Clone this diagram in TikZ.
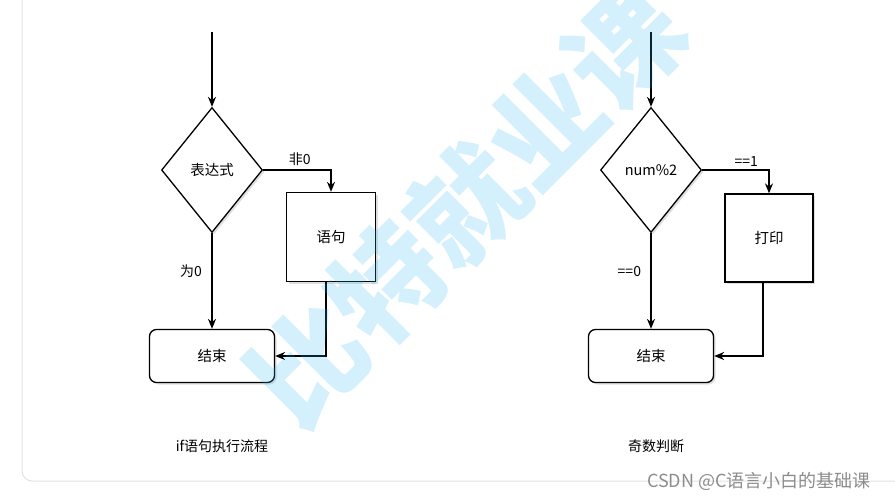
\documentclass[tikz,border=0pt]{standalone}
\usepackage{fontspec}
\setmainfont{Noto Sans CJK SC}
\usetikzlibrary{shapes.geometric,arrows.meta,shadows}

\definecolor{wmcyan}{HTML}{2AB4EE}
\definecolor{framegray}{HTML}{E2E2E2}
\tikzset{
  boxshadow/.style={drop shadow={shadow xshift=2pt,shadow yshift=-2pt,opacity=0.25}},
  decision/.style={diamond,draw,line width=1.3pt,fill=white,boxshadow,inner sep=0pt,
    minimum width=101pt,minimum height=125pt,font=\fontsize{14.5}{16}\selectfont},
  stmtbox/.style={rectangle,draw,line width=1.3pt,fill=white,boxshadow,
    minimum width=89pt,minimum height=89pt,font=\fontsize{14.5}{16}\selectfont},
  endbox/.style={rectangle,rounded corners=7pt,draw,line width=1.3pt,fill=white,boxshadow,
    minimum width=125pt,minimum height=53pt,font=\fontsize{14.5}{16}\selectfont},
  flow/.style={line width=1.3pt,-{Stealth[length=10pt,width=8pt]}},
  lbl/.style={font=\fontsize{14}{16}\selectfont},
}

\begin{document}
\begin{tikzpicture}[x=1pt,y=-1pt]
  \useasboundingbox (0,0) rectangle (895,499);
  % frame
  \draw[framegray,line width=1pt,rounded corners=10pt] (22,-12) rectangle (910,481);

  % if flow
  \coordinate (start1) at (212,32);
  \node[decision] (cond1) at (212,170) {表达式};
  \node[stmtbox] (stmt1) at (331,237) {语句};
  \node[endbox] (end1) at (212,356) {结束};
  \draw[flow] (start1) -- (cond1);
  \draw[flow] (cond1.east) -| (stmt1.north) node[lbl,pos=0.27,above] {非0};
  \draw[flow] (cond1.south) -- (end1.north) node[lbl,pos=0.4,left,xshift=-6pt] {为0};
  \draw[flow] ([xshift=-5pt]stmt1.south) |- (end1.east);
  \node[lbl] (cap1) at (222,446) {if语句执行流程};

  % odd check
  \coordinate (start2) at (651,32);
  \node[decision] (cond2) at (651,170) {num\%2};
  \node[stmtbox,minimum width=88pt,minimum height=88pt] (stmt2) at (769,238) {打印};
  \node[endbox] (end2) at (651,356) {结束};
  \draw[flow] (start2) -- (cond2);
  \draw[flow] (cond2.east) -| (stmt2.north) node[lbl,pos=0.33,above] {==1};
  \draw[flow] (cond2.south) -- (end2.north) node[lbl,pos=0.4,left,xshift=-6pt] {==0};
  \draw[flow] ([xshift=-6pt]stmt2.south) |- (end2.east);
  \node[lbl] (cap2) at (656,446) {奇数判断};

  % watermark
  \node[text=wmcyan,opacity=0.2,rotate=45,font=\fontsize{112}{112}\selectfont\bfseries] (mark) at (466,205) {比特就业课};
  \node[text=gray!90,font=\fontsize{18}{20}\selectfont] (csdn) at (759,481) {CSDN @C语言小白的基础课};
\end{tikzpicture}
\end{document}
